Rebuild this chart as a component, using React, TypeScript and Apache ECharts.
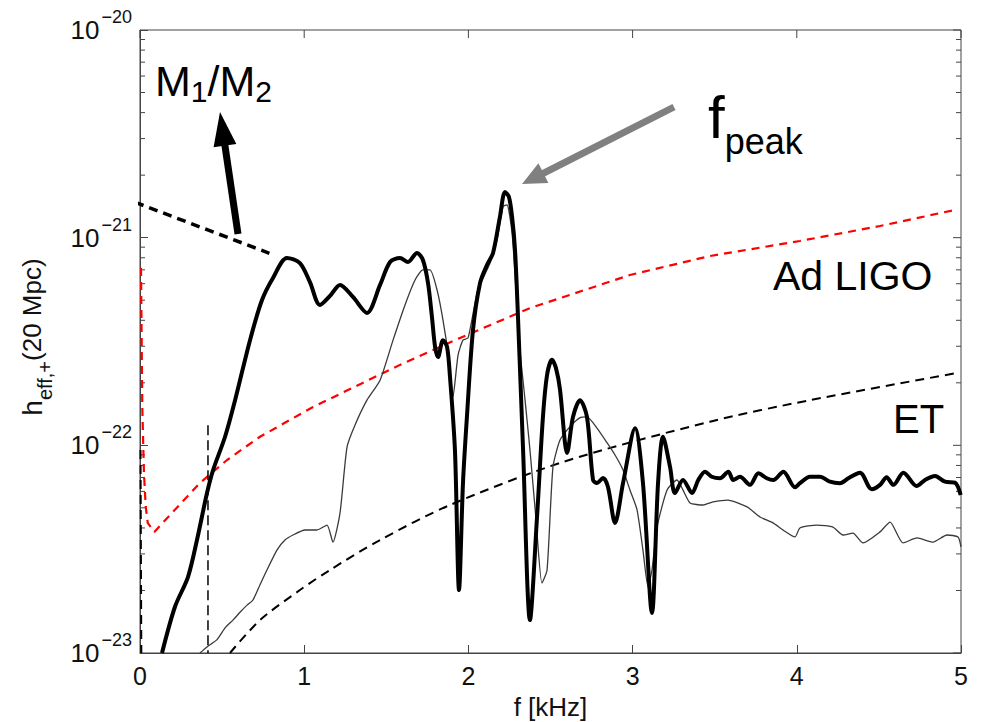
import React, { useEffect, useRef } from "react";
import * as echarts from "echarts";

const FONT = "'Liberation Sans', Arial, Helvetica, sans-serif";

// x axis ticks (kHz)
const xTickValues = [0, 1, 2, 3, 4, 5];
// y axis range (min nudged below 1e-23 so the 10^-23 tick survives float rounding)
const yMin = 0.9999e-23;
const yMax = 1e-20;
const yDecades = [1e-23, 1e-22, 1e-21, 1e-20];
const minorMultipliers = [2, 3, 4, 5, 6, 7, 8, 9];
const minorDecades = [1e-23, 1e-22, 1e-21];

// Thick black curve
const thickF = [0.134, 0.213, 0.292, 0.347, 0.408, 0.445, 0.518, 0.579, 0.670, 0.743, 0.810, 0.895, 0.974, 1.035, 1.096, 1.157, 1.218, 1.297, 1.382, 1.462, 1.523, 1.583, 1.632, 1.687, 1.723, 1.754, 1.778, 1.797, 1.815, 1.845, 1.870, 1.888, 1.918, 1.943, 1.967, 1.991, 2.028, 2.071, 2.113, 2.150, 2.192, 2.223, 2.247, 2.266, 2.284, 2.302, 2.333, 2.375, 2.418, 2.454, 2.479, 2.509, 2.533, 2.558, 2.588, 2.600, 2.637, 2.680, 2.722, 2.759, 2.783, 2.820, 2.850, 2.893, 2.942, 3.015, 3.063, 3.118, 3.155, 3.185, 3.228, 3.258, 3.307, 3.362, 3.400, 3.441, 3.482, 3.532, 3.583, 3.613, 3.654, 3.715, 3.766, 3.817, 3.857, 3.918, 3.989, 4.019, 4.080, 4.141, 4.202, 4.263, 4.314, 4.385, 4.456, 4.507, 4.547, 4.588, 4.649, 4.730, 4.781, 4.842, 4.903, 4.963, 4.998];
const thickH = [1.0e-23, 1.67e-23, 2.32e-23, 3.50e-23, 5.89e-23, 7.60e-23, 1.10e-22, 1.65e-22, 3.21e-22, 5.01e-22, 6.40e-22, 7.98e-22, 7.55e-22, 6.11e-22, 4.74e-22, 5.24e-22, 5.92e-22, 5.18e-22, 4.34e-22, 5.92e-22, 7.64e-22, 7.98e-22, 7.64e-22, 8.44e-22, 7.81e-22, 6.05e-22, 4.15e-22, 2.98e-22, 2.66e-22, 3.21e-22, 2.98e-22, 2.13e-22, 9.5e-23, 2.01e-23, 6.59e-23, 1.37e-22, 3.59e-22, 6.05e-22, 7.38e-22, 8.44e-22, 1.26e-21, 1.66e-21, 1.57e-21, 1.26e-21, 8.72e-22, 4.15e-22, 9.5e-23, 1.44e-23, 4.52e-23, 1.37e-22, 2.18e-22, 2.58e-22, 2.36e-22, 1.85e-22, 1.03e-22, 9.19e-23, 1.37e-22, 1.65e-22, 1.37e-22, 6.81e-23, 6.59e-23, 6.96e-23, 6.30e-23, 4.23e-23, 6.59e-23, 1.21e-22, 6.59e-23, 1.56e-23, 6.59e-23, 1.10e-22, 7.87e-23, 5.89e-23, 6.81e-23, 5.89e-23, 6.81e-23, 7.47e-23, 7.06e-23, 6.94e-23, 7.47e-23, 6.81e-23, 7.06e-23, 6.45e-23, 7.33e-23, 6.94e-23, 6.81e-23, 7.47e-23, 6.28e-23, 6.57e-23, 7.06e-23, 7.06e-23, 6.68e-23, 6.57e-23, 6.94e-23, 7.38e-23, 6.14e-23, 6.45e-23, 7.02e-23, 6.45e-23, 7.38e-23, 6.37e-23, 6.81e-23, 7.11e-23, 6.68e-23, 6.61e-23, 5.77e-23];

// Thin curve
const thinF = [0.365, 0.408, 0.469, 0.518, 0.566, 0.609, 0.652, 0.688, 0.731, 0.773, 0.834, 0.883, 0.932, 1.005, 1.078, 1.139, 1.175, 1.218, 1.261, 1.309, 1.382, 1.462, 1.541, 1.614, 1.675, 1.723, 1.766, 1.809, 1.845, 1.882, 1.906, 1.937, 1.967, 1.998, 2.058, 2.132, 2.174, 2.211, 2.235, 2.266, 2.290, 2.314, 2.345, 2.375, 2.412, 2.448, 2.479, 2.515, 2.558, 2.619, 2.680, 2.722, 2.783, 2.844, 2.893, 2.942, 2.984, 3.027, 3.063, 3.094, 3.118, 3.149, 3.210, 3.270, 3.307, 3.350, 3.429, 3.490, 3.580, 3.697, 3.776, 3.855, 3.916, 3.989, 4.019, 4.123, 4.220, 4.281, 4.342, 4.403, 4.507, 4.568, 4.647, 4.732, 4.830, 4.915, 4.982, 5.0];
const thinH = [1.0e-23, 1.07e-23, 1.16e-23, 1.32e-23, 1.44e-23, 1.57e-23, 1.70e-23, 1.80e-23, 2.13e-23, 2.51e-23, 3.13e-23, 3.50e-23, 3.70e-23, 3.91e-23, 3.91e-23, 4.13e-23, 3.42e-23, 4.72e-23, 9.82e-23, 1.25e-22, 1.65e-22, 2.06e-22, 3.21e-22, 4.74e-22, 6.25e-22, 6.99e-22, 6.99e-22, 5.60e-22, 4.02e-22, 2.58e-22, 1.71e-22, 2.72e-22, 3.21e-22, 3.29e-22, 5.60e-22, 7.55e-22, 9.75e-22, 1.41e-21, 1.44e-21, 1.05e-21, 5.60e-22, 2.88e-22, 1.65e-22, 9.5e-23, 4.37e-23, 2.17e-23, 2.51e-23, 7.87e-23, 1.06e-22, 1.23e-22, 1.36e-22, 1.37e-22, 1.21e-22, 1.03e-22, 8.98e-23, 7.6e-23, 6.09e-23, 4.89e-23, 3.13e-23, 2.08e-23, 2.51e-23, 4.04e-23, 6.09e-23, 6.81e-23, 6.09e-23, 5.28e-23, 5.16e-23, 5.34e-23, 5.45e-23, 5.05e-23, 4.52e-23, 4.23e-23, 3.91e-23, 3.62e-23, 4.0e-23, 4.13e-23, 4.04e-23, 3.70e-23, 3.78e-23, 3.39e-23, 3.83e-23, 4.27e-23, 3.39e-23, 3.58e-23, 3.42e-23, 3.70e-23, 3.62e-23, 3.24e-23];

// Advanced LIGO sensitivity (red dashed)
const ligoF = [0.006, 0.014, 0.024, 0.035, 0.047, 0.087, 0.365, 0.530, 0.731, 1.054, 1.583, 1.949, 2.375, 2.984, 3.471, 4.019, 4.507, 4.963];
const ligoH = [7.14e-22, 1.53e-22, 7.36e-23, 5.05e-23, 4.23e-23, 3.83e-23, 6.59e-23, 8.50e-23, 1.10e-22, 1.53e-22, 2.44e-22, 3.29e-22, 4.58e-22, 6.61e-22, 8.16e-22, 9.64e-22, 1.138e-21, 1.36e-21];

// Einstein Telescope sensitivity (black dashed)
const etF = [0.548, 0.731, 0.974, 1.157, 1.462, 1.888, 2.576, 3.471, 4.080, 4.976];
const etH = [1.0e-23, 1.44e-23, 2.01e-23, 2.51e-23, 3.50e-23, 5.16e-23, 8.31e-23, 1.30e-22, 1.65e-22, 2.23e-22];
const etLowF = [0.003, 0.008];
const etLowH = [9.5e-23, 1.0e-23];

// M1/M2 trend (black dashed, thick)
const trendF = [-0.03, 0.788];
const trendH = [1.48e-21, 8.41e-22];

// vertical dashed marker
const markerF = [0.414, 0.414];
const markerH = [1.25e-22, 1.0e-23];

const zip = (f: number[], h: number[]) => f.map((v, i) => [v, h[i]]);

function arrow(tail: number[], tip: number[], shaftW: number, headLen: number, headHalf: number, color: string) {
  const dx = tip[0] - tail[0];
  const dy = tip[1] - tail[1];
  const L = Math.hypot(dx, dy);
  const ux = dx / L;
  const uy = dy / L;
  const bx = tip[0] - ux * headLen;
  const by = tip[1] - uy * headLen;
  const px = -uy;
  const py = ux;
  return [
    {
      type: "line",
      shape: { x1: tail[0], y1: tail[1], x2: bx + ux * 3, y2: by + uy * 3 },
      style: { stroke: color, lineWidth: shaftW },
      z: 100,
    },
    {
      type: "polygon",
      shape: {
        points: [
          [tip[0], tip[1]],
          [bx + px * headHalf, by + py * headHalf],
          [bx - px * headHalf, by - py * headHalf],
        ],
      },
      style: { fill: color },
      z: 100,
    },
  ];
}

export default function App() {
  const ref = useRef<HTMLDivElement>(null);
  useEffect(() => {
    document.body.style.margin = "0";
    if (!ref.current) return;
    const chart = echarts.init(ref.current, null, { renderer: "svg" });
    const minorTickValues: number[] = [];
    minorDecades.forEach((d) => minorMultipliers.forEach((m) => minorTickValues.push(m * d)));
    const axisColor = "#444";
    const option: any = {
      animation: false,
      backgroundColor: "#fff",
      grid: {
        left: 140,
        right: 23,
        top: 30,
        bottom: 69,
        containLabel: false,
        outerBoundsMode: "none",
        show: true,
        borderColor: axisColor,
        borderWidth: 1,
        backgroundColor: "transparent",
      },
      xAxis: {
        type: "value",
        min: 0,
        max: 5,
        interval: 1,
        position: "bottom",
        axisLine: { show: true, onZero: false, lineStyle: { color: axisColor, width: 1 } },
        axisTick: { show: true, inside: true, length: 8, lineStyle: { color: axisColor } },
        axisLabel: {
          fontSize: 25,
          color: "#111",
          fontFamily: FONT,
          margin: 10,
          formatter: (v: number) => (xTickValues.includes(v) ? String(v) : ""),
        },
        splitLine: { show: false },
        name: "f [kHz]",
        nameLocation: "middle",
        nameGap: 41,
        nameTextStyle: { fontSize: 26, color: "#111", fontFamily: FONT },
      },
      yAxis: {
        type: "log",
        logBase: 10,
        min: yMin,
        max: yMax,
        position: "left",
        axisLine: { show: true, lineStyle: { color: axisColor, width: 1 } },
        axisTick: { show: true, inside: true, length: 8, lineStyle: { color: axisColor } },
        splitLine: { show: false },
        axisLabel: {
          margin: 8,
          showMinLabel: true,
          showMaxLabel: true,
          hideOverlap: false,
          formatter: (v: number) => {
            const e = Math.round(Math.log10(v));
            return `{b|10}{s|\u2212${-e}}`;
          },
          rich: {
            b: { fontSize: 26, lineHeight: 26, fontFamily: FONT, color: "#111", verticalAlign: "middle" },
            s: { fontSize: 18, lineHeight: 18, fontFamily: FONT, color: "#111", verticalAlign: "middle", padding: [0, 0, 26, 2] },
          },
        },
      },
      series: [
        {
          type: "custom",
          name: "yTicks",
          silent: true,
          clip: false,
          data: [...minorTickValues.map((v) => [0, v, 5]), ...yDecades.map((v) => [0, v, 8])],
          encode: { x: 0, y: 1 },
          renderItem: (params: any, api: any) => {
            const cs = params.coordSys;
            const y = api.coord([0, api.value(1)])[1];
            const len = api.value(2);
            const children: any[] = [
              { type: "line", shape: { x1: cs.x + cs.width - len, y1: y, x2: cs.x + cs.width, y2: y }, style: { stroke: axisColor, lineWidth: 1 } },
            ];
            if (len < 8) {
              children.push({ type: "line", shape: { x1: cs.x, y1: y, x2: cs.x + len, y2: y }, style: { stroke: axisColor, lineWidth: 1 } });
            }
            return { type: "group", children };
          },
        },
        {
          type: "custom",
          name: "xTopTicks",
          silent: true,
          clip: false,
          data: xTickValues.map((v) => [v, yMax]),
          encode: { x: 0, y: 1 },
          renderItem: (params: any, api: any) => {
            const cs = params.coordSys;
            const x = api.coord([api.value(0), yMax])[0];
            return { type: "line", shape: { x1: x, y1: cs.y, x2: x, y2: cs.y + 8 }, style: { stroke: axisColor, lineWidth: 1 } };
          },
        },
        {
          type: "line",
          name: "Ad LIGO",
          data: zip(ligoF, ligoH),
          symbol: "none",
          lineStyle: { color: "#ff0000", width: 2.2, type: [8, 6] },
          z: 3,
        },
        {
          type: "line",
          name: "ET",
          data: zip(etF, etH),
          symbol: "none",
          smooth: 0.3,
          lineStyle: { color: "#000", width: 2, type: [9, 6] },
          z: 3,
        },
        {
          type: "line",
          name: "ET low",
          data: zip(etLowF, etLowH),
          symbol: "none",
          lineStyle: { color: "#000", width: 2, type: [9, 6] },
          z: 3,
        },
        {
          type: "line",
          name: "marker",
          data: zip(markerF, markerH),
          symbol: "none",
          lineStyle: { color: "#000", width: 1.5, type: [10, 5] },
          z: 3,
        },
        {
          type: "line",
          name: "trend",
          data: zip(trendF, trendH),
          symbol: "none",
          clip: false,
          lineStyle: { color: "#000", width: 3.5, type: [9, 6] },
          z: 4,
        },
        {
          type: "line",
          name: "thin",
          data: zip(thinF, thinH),
          symbol: "none",
          smooth: 0.2,
          lineStyle: { color: "#3a3a3a", width: 1.3 },
          z: 5,
        },
        {
          type: "line",
          name: "thick",
          data: zip(thickF, thickH),
          symbol: "none",
          smooth: 0.3,
          lineStyle: { color: "#000", width: 4 },
          z: 6,
        },
      ],
      graphic: [
        ...arrow([238, 234], [220, 112], 7, 34, 11.5, "#000"),
        ...arrow([674, 107], [522, 184], 7, 24, 11, "#808080"),
        {
          type: "text",
          x: 155,
          y: 59,
          z: 100,
          style: {
            text: "{m|M}{s|1}{m|/M}{s|2}",
            align: "left",
            verticalAlign: "top",
            fill: "#000",
            rich: {
              m: { fontSize: 43, lineHeight: 43, fontFamily: FONT, fill: "#000", verticalAlign: "top" },
              s: { fontSize: 30, lineHeight: 30, fontFamily: FONT, fill: "#000", verticalAlign: "top", padding: [17, 0, 0, 0] },
            },
          },
        },
        {
          type: "text",
          x: 708,
          y: 87,
          z: 100,
          style: {
            text: "{f|f}{s|peak}",
            align: "left",
            verticalAlign: "top",
            fill: "#000",
            rich: {
              f: { fontSize: 60, lineHeight: 60, fontFamily: FONT, fill: "#000", verticalAlign: "top" },
              s: { fontSize: 36, lineHeight: 36, fontFamily: FONT, fill: "#000", verticalAlign: "top", padding: [36, 0, 0, 0] },
            },
          },
        },
        {
          type: "text",
          x: 773,
          y: 276,
          z: 100,
          style: { text: "Ad LIGO", fontSize: 41, fontFamily: FONT, fill: "#000", align: "left", verticalAlign: "middle" },
        },
        {
          type: "text",
          x: 893,
          y: 419,
          z: 100,
          style: { text: "ET", fontSize: 40, fontFamily: FONT, fill: "#000", align: "left", verticalAlign: "middle" },
        },
        {
          type: "text",
          x: 32,
          y: 337,
          rotation: Math.PI / 2,
          z: 100,
          style: {
            text: "{h|h}{s|eff,+}{t|(20 Mpc)}",
            align: "center",
            verticalAlign: "middle",
            fill: "#111",
            rich: {
              h: { fontSize: 28, lineHeight: 28, fontFamily: FONT, fill: "#111", verticalAlign: "top" },
              s: { fontSize: 20, lineHeight: 20, fontFamily: FONT, fill: "#111", verticalAlign: "top", padding: [17, 0, 0, 0] },
              t: { fontSize: 26, lineHeight: 26, fontFamily: FONT, fill: "#111", verticalAlign: "top", padding: [1, 0, 0, 0] },
            },
          },
        },
      ],
    };
    chart.setOption(option);
    return () => chart.dispose();
  }, []);
  return <div ref={ref} style={{ width: 984, height: 722 }} />;
}
